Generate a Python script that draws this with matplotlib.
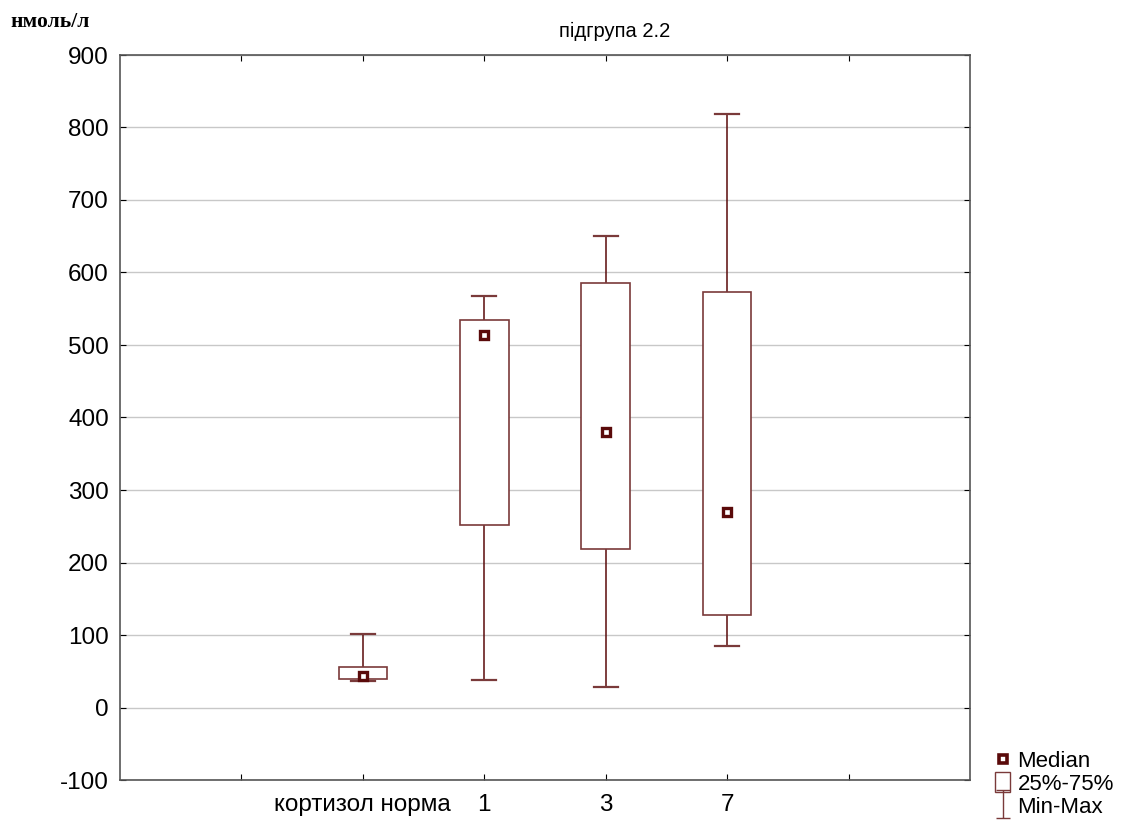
import matplotlib.pyplot as plt
import numpy as np
from matplotlib.lines import Line2D
from matplotlib.patches import Patch, Rectangle
from matplotlib.path import Path

plt.rcParams['font.family'] = ['Liberation Sans', 'DejaVu Sans']
plt.rcParams['axes.unicode_minus'] = False

groups = ["кортизол норма", "1", "3", "7"]
mins = [37, 38, 28, 85]
q1 = [40, 252, 219, 128]
medians = [43, 514, 380, 270]
q3 = [56, 534, 586, 573]
maxs = [101, 568, 650, 819]

col = "#5a0a0a"
box_col = "#7a3a3a"

fig = plt.figure(figsize=(11.25, 8.21), dpi=100)
ax = fig.add_axes([120/1125, 1-780/821, 850/1125, 725/821])

pos = np.arange(len(groups))
bw = 0.4
cw = 0.2
for i, x in enumerate(pos):
    ax.add_patch(Rectangle((x - bw/2, q1[i]), bw, q3[i] - q1[i],
                           facecolor="white", edgecolor=box_col, lw=1.2, zorder=3))
    ax.plot([x, x], [q3[i], maxs[i]], color=col, lw=1.1, zorder=2)
    ax.plot([x, x], [mins[i], q1[i]], color=col, lw=1.1, zorder=2)
    ax.plot([x - cw/2, x + cw/2], [maxs[i], maxs[i]], color=box_col, lw=1.6, zorder=2)
    ax.plot([x - cw/2, x + cw/2], [mins[i], mins[i]], color=box_col, lw=1.6, zorder=2)
ax.plot(pos, medians, ls="none", marker="s", ms=6, mfc="white", mec=col, mew=2.4, zorder=4)

ax.set_xlim(-2, 5)
ax.set_ylim(-100, 900)
ax.set_yticks(np.arange(-100, 901, 100))
ax.set_xticks(np.arange(-1, 5))
ax.set_xticklabels([""] + groups + [""])
ax.yaxis.grid(True, color="#c8c8c8", lw=1)
ax.set_axisbelow(True)
ax.tick_params(direction="in", length=4, labelsize=17.5, top=True, right=True,
               color="black", pad=8)
ax.tick_params(axis="x", pad=10)
for s in ax.spines.values():
    s.set_color("#555555")
    s.set_linewidth(1.2)

fig.text(615/1125, 1-31/821, "підгрупа 2.2", ha="center", va="center", fontsize=14.5)
fig.text(10/1125, 1-22/821, "нмоль/л", ha="left", va="center", fontsize=15.5,
         fontweight="bold", family=["Liberation Serif", "DejaVu Serif"])

ibeam = Path([(-0.5, 1), (0.5, 1), (0, 1), (0, -1), (-0.5, -1), (0.5, -1)],
             [Path.MOVETO, Path.LINETO, Path.MOVETO, Path.LINETO, Path.MOVETO, Path.LINETO])
handles = [
    Line2D([], [], ls="none", marker="s", ms=6, mfc="white", mec=col, mew=2.6),
    Patch(facecolor="white", edgecolor=box_col, lw=1),
    Line2D([], [], ls="none", marker=ibeam, ms=20, mfc="none", mec=box_col, mew=1),
]
fig.legend(handles, ["Median", "25%-75%", "Min-Max"], loc="lower left",
           bbox_to_anchor=(982/1125, -0.012), frameon=False, fontsize=16,
           handlelength=0.65, handleheight=1.0, handletextpad=0.35,
           labelspacing=0.0, borderpad=0.1)

fig.savefig("out.png", dpi=100)
